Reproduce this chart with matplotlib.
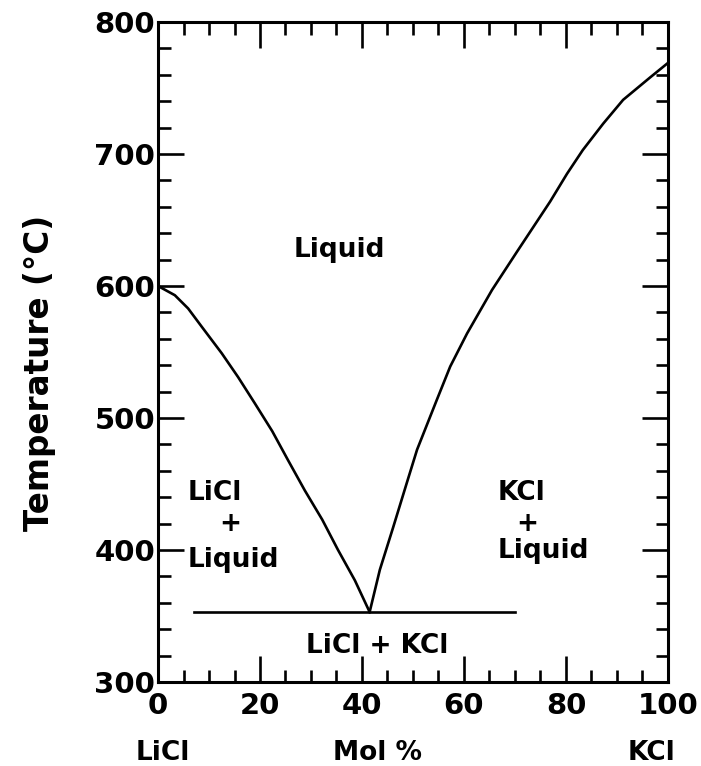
"""
LiCl-KCl phase diagram
"""
import matplotlib
matplotlib.use("Agg")
import matplotlib.pyplot as plt
from matplotlib.ticker import MultipleLocator

# liquidus, LiCl side (mol % KCl, deg C)
left_x = [0, 3.3, 5.9, 8.6, 12.5, 15.7, 19.0, 22.4, 25.5, 28.8, 32.2, 35.3, 38.6, 41.5]
left_t = [600, 593, 583, 569, 549, 531, 511, 490, 468, 445, 423, 400, 377, 353]

# liquidus, KCl side
right_x = [41.5, 43.5, 46.1, 48.8, 50.8, 54.7, 57.3, 60.6, 65.5, 70.4, 76.9, 80.2,
           83.3, 87.3, 91.2, 96.5, 100]
right_t = [353, 385, 417, 451, 476, 514, 539, 564, 597, 626, 664, 685,
           703, 723, 741, 758, 769]

# eutectic line
eut_x = [7, 70]
eut_t = [353, 353]

FONT = "DejaVu Sans"

fig = plt.figure(figsize=(7.01, 7.66), dpi=100)
ax = fig.add_axes([0.2254, 0.1097, 0.7275, 0.8616])

ax.plot(left_x, left_t, color="black", lw=1.9, solid_joinstyle="round")
ax.plot(right_x, right_t, color="black", lw=1.9, solid_joinstyle="round")
ax.plot(eut_x, eut_t, color="black", lw=1.9)

ax.set_xlim(0, 100)
ax.set_ylim(300, 800)
ax.xaxis.set_major_locator(MultipleLocator(20))
ax.xaxis.set_minor_locator(MultipleLocator(5))
ax.yaxis.set_major_locator(MultipleLocator(100))
ax.yaxis.set_minor_locator(MultipleLocator(20))

for s in ax.spines.values():
    s.set_linewidth(2.2)
ax.tick_params(which="both", direction="in", top=True, right=True, width=1.9)
ax.tick_params(which="major", length=19)
ax.tick_params(which="minor", length=9)
ax.tick_params(axis="y", pad=2)
ax.tick_params(axis="x", pad=7)
for lab in ax.get_xticklabels() + ax.get_yticklabels():
    lab.set_fontsize(21)
    lab.set_family(FONT)
    lab.set_fontweight("bold")

ax.set_ylabel("Temperature (°C)", fontsize=23.5, fontweight="bold", family=FONT)
ax.yaxis.set_label_coords(-0.2, 0.468)

# region labels
kw = dict(fontsize=19, fontweight="bold", family=FONT, va="baseline")
ax.text(26.5, 622, "Liquid", ha="left", **kw)
ax.text(5.9, 438, "LiCl", ha="left", **kw)
ax.text(14.1, 420, "+", ha="center", fontsize=19, fontweight="bold", family=FONT, va="center")
ax.text(5.9, 387, "Liquid", ha="left", **kw)
ax.text(66.5, 438, "KCl", ha="left", **kw)
ax.text(72.5, 420, "+", ha="center", fontsize=19, fontweight="bold", family=FONT, va="center")
ax.text(66.5, 394, "Liquid", ha="left", **kw)
ax.text(42.9, 322, "LiCl + KCl", ha="center", **kw)

# component labels below the axis
base = 1 - 760 / 766
fig.text(163 / 701, base, "LiCl", ha="center", **kw)
fig.text(378 / 701, base, "Mol %", ha="center", **kw)
fig.text(652 / 701, base, "KCl", ha="center", **kw)

fig.savefig("out.png", dpi=100)
